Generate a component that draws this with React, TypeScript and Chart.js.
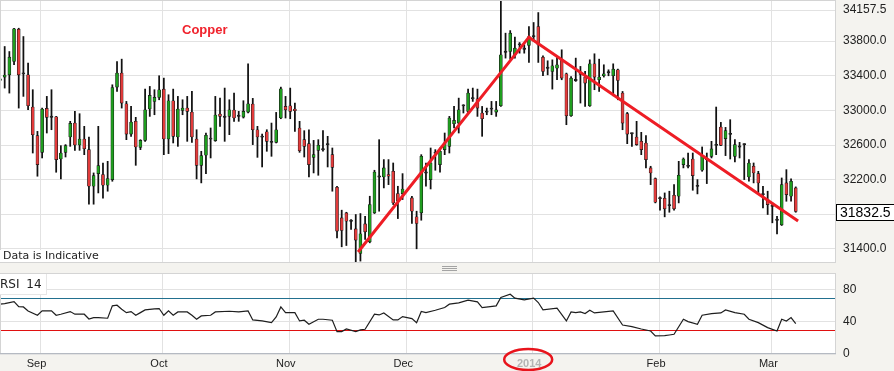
import { useEffect, useRef } from 'react';
import { Chart, registerables } from 'chart.js';
Chart.register(...registerables);

// ---- data (candle index 0 = first visible session) ----
const opens: (number | null)[] = [
  33346, 33385, 33411, 33565, 33938, 33425, 33411, 33039, 32708, 32516,
  33023, 32925, 32927, 32439, 32516, 32693, 32854, 32601, 32670, 32547,
  32124, 32270, 32259, 32136, 32201, 33269, 33431, 33077, 32727, 32874,
  32574, 32654, 33016, 33104, 33150, 33246, 32670, 33112, 32693, 33000,
  33027, 32981, 32670, 32366, 32482, 32668, 32651, 32958, 32925, 32931,
  33004, 32935, 32923, 32981, 33073, 32777, 32695, 32754, 32633, 32631,
  32912, 33046, 33054, 33016, 32797, 32662, 32616, 32458, 32539, 32549,
  32607, 32489, 32113, 31759, 31817, 31723, 31632, 31348, 31690, 31482,
  31817, 32234, 32232, 32259, 32297, 32040, 32040, null, 31990, 31771,
  31817, 32280, 32201, 32510, 32374, 32547, 32585, 32847, 32854, 33056,
  32989, 33137, 33135, 32970, 32983, 33014, 32981, 33054, 33671, 33680,
  33642, 33759, 33709, 33750, 33855, 33969, 33615, 33490, 33450, 33488,
  33584, 33423, 32939, 33348, 33421, 33385, 33054, 33538, 33354, 33400,
  33440, 33400, 33469, 33200, 32962, 32733, 32693, 32643, 32624, 32336,
  32213, 31984, 31986, 31903, 32020, 32009, 32374, 32357, 32439, 32126,
  32309, 32434, 32470, 32599, 32808, 32674, 32726, 32470, 32580, 32607,
  32232, 32355, 32270, 32030, 31971, 31896, 31734, 31679, 32163, 32009,
  32105,
];
const highs: (number | null)[] = [
  33385, 33738, 33680, 33949, 33949, 33853, 33546, 33239, 32758, 33027,
  33162, 33239, 32931, 32593, 32605, 32874, 32989, 32962, 32816, 32693,
  32278, 32816, 32393, 32412, 33296, 33565, 33592, 33104, 33046, 32920,
  32662, 33246, 33277, 33239, 33400, 33373, 33181, 33246, 33162, 33123,
  33162, 33219, 32777, 32528, 32739, 32797, 33162, 33142, 33258, 33123,
  33200, 32989, 33112, 33538, 33139, 32816, 32727, 32777, 32854, 32977,
  33269, 33162, 33258, 33085, 32874, 32766, 32777, 32654, 32662, 32766,
  32701, 32566, 32124, 31848, 31824, 31740, 31798, 31809, 31778, 32009,
  32309, 32662, 32432, 32432, 32393, 32124, 32270, null, 32009, 31836,
  32489, 32393, 32566, 32547, 32566, 32739, 32931, 33046, 33142, 33066,
  33246, 33258, 33246, 33046, 33027, 33104, 33104, 34260, 33892, 33922,
  33846, 33784, 33757, 33969, 34015, 34130, 33631, 33573, 33584, 33615,
  33700, 33431, 33392, 33604, 33508, 33450, 33584, 33654, 33592, 33527,
  33469, 33538, 33477, 33219, 32977, 32739, 32874, 32747, 32708, 32355,
  32220, 32001, 32047, 32067, 32143, 32412, 32451, 32508, 32508, 32201,
  32578, 32508, 32643, 33039, 32862, 32804, 32893, 32662, 32631, 32616,
  32432, 32393, 32297, 32124, 32067, 31932, 31778, 32220, 32316, 32209,
  32117,
];
const lows: (number | null)[] = [
  33323, 33258, 33200, 33527, 33027, 33162, 33008, 32508, 32240, 32451,
  32739, 32777, 32286, 32209, 32462, 32585, 32539, 32539, 32489, 31917,
  31917, 32047, 31986, 32067, 32182, 33219, 33027, 32662, 32701, 32366,
  32547, 32643, 32931, 32950, 33123, 32489, 32501, 32624, 32585, 32950,
  32643, 32631, 32209, 32163, 32270, 32451, 32643, 32816, 32643, 32720,
  32874, 32874, 32912, 32970, 32605, 32458, 32347, 32528, 32470, 32624,
  32904, 32912, 32904, 32758, 32516, 32462, 32232, 32278, 32251, 32528,
  32347, 32067, 31529, 31425, 31440, 31625, 31240, 31260, 31509, 31471,
  31809, 31836, 32105, 32143, 31913, 31751, 31971, null, 31694, 31402,
  31732, 32124, 32093, 32309, 32286, 32489, 32508, 32797, 32739, 32970,
  32970, 33104, 32931, 32701, 32950, 32950, 32931, 33046, 33604, 33592,
  33604, 33661, 33661, 33554, 33796, 33554, 33400, 33411, 33246, 33354,
  33354, 32835, 32931, 33335, 33085, 33046, 33046, 33239, 33219, 33385,
  33400, 33169, 33123, 32777, 32616, 32585, 32597, 32489, 32336, 32143,
  31932, 31848, 31771, 31824, 31848, 31932, 32336, 32336, 32078, 32036,
  32297, 32155, 32451, 32489, 32593, 32478, 32439, 32405, 32451, 32201,
  32182, 32163, 32047, 31874, 31798, 31702, 31575, 31671, 31951, 31951,
  31824,
];
const closes: (number | null)[] = [
  33365, 33408, 33615, 33942, 33411, 33420, 33054, 32720, 32374, 33016,
  32920, 32920, 32432, 32508, 32593, 32850, 32601, 32670, 32558, 32124,
  32247, 32362, 32136, 32213, 33265, 33431, 33085, 32727, 32866, 32578,
  32654, 33008, 33173, 33150, 33239, 32670, 33112, 32701, 33016, 33027,
  32989, 32693, 32366, 32478, 32712, 32672, 32946, 32931, 32920, 33008,
  32912, 32931, 32989, 33077, 32777, 32693, 32690, 32643, 32629, 32777,
  33250, 33008, 32989, 32996, 32535, 32585, 32374, 32489, 32597, 32545,
  32603, 32343, 31606, 31613, 31721, 31719, 31502, 31575, 31598, 31913,
  32289, 32230, 32336, 32240, 31932, 31951, 32093, null, 31836, 31694,
  32470, 32276, 32393, 32506, 32528, 32624, 32912, 32885, 33008, 33052,
  33200, 33133, 33027, 32904, 32979, 33018, 33008, 33642, 33675, 33892,
  33719, 33755, 33705, 33853, 33851, 33757, 33450, 33486, 33515, 33527,
  33373, 32939, 33373, 33344, 33417, 33315, 33538, 33385, 33385, 33423,
  33436, 33477, 33346, 32854, 32727, 32729, 32605, 32547, 32432, 32278,
  31940, 31980, 31863, 31899, 31863, 32251, 32439, 32353, 32247, 32122,
  32478, 32430, 32555, 32595, 32597, 32766, 32722, 32605, 32576, 32603,
  32393, 32278, 32163, 32026, 31913, 31892, 31730, 32143, 32028, 32182,
  31832.5,
];

// RSI(14) vertices: candle index -> value
const rsiIdx = [
  0, 1, 3, 4, 5, 6, 8, 9, 11, 12, 13, 15, 16, 18, 19, 20, 21, 23, 24, 25,
  26, 27, 28, 29, 30, 31, 33, 34, 35, 36, 37, 38, 40, 41, 42, 43, 45, 46, 49, 51,
  53, 54, 56, 58, 59, 60, 61, 63, 64, 65, 66, 68, 69, 71, 72, 73, 74, 76, 77, 78,
  80, 81, 82, 84, 85, 86, 88, 89, 90, 91, 93, 95, 96, 98, 100, 102, 103, 106, 107, 109,
  110, 112, 114, 115, 116, 119, 121, 122, 123, 124, 125, 126, 127, 131, 133, 135, 137, 139, 140, 142,
  143, 144, 146, 147, 149, 150, 152, 154, 155, 157, 159, 160, 162, 164, 166, 167, 168, 169, 170,
];
const rsiVals = [
  62.1, 62.9, 65.4, 59.1, 58.7, 53.7, 48.3, 53.7, 53.7, 48.3, 49.6, 52.9, 49.6, 49.6, 43.7, 45.4, 45.4, 44.6, 60.0, 60.8,
  55.8, 51.6, 52.9, 48.3, 51.6, 55.0, 56.2, 56.7, 48.3, 53.7, 48.3, 52.5, 52.5, 48.3, 43.3, 47.5, 48.3, 52.5, 53.3, 52.5,
  53.7, 42.5, 41.2, 39.1, 46.2, 58.7, 51.6, 51.6, 41.2, 42.1, 37.1, 43.3, 43.3, 42.1, 27.9, 27.9, 31.2, 27.9, 30.0, 30.8,
  49.6, 48.7, 51.2, 42.5, 42.5, 46.6, 44.1, 39.1, 53.0, 51.6, 54.6, 57.9, 62.1, 63.7, 67.1, 65.0, 57.9, 60.0, 70.4, 74.6,
  69.6, 67.5, 69.6, 64.2, 55.0, 57.1, 41.2, 52.5, 51.6, 52.5, 50.4, 54.6, 51.2, 53.7, 36.2, 34.1, 31.2, 28.7, 22.5, 22.9,
  23.7, 24.6, 43.3, 40.4, 37.1, 48.3, 50.4, 51.2, 55.0, 51.6, 49.6, 43.3, 39.1, 32.9, 28.7, 43.3, 41.2, 45.4, 37.9,
];

// hand-drawn trend lines (candle index, price)
const trendIdx = [76.5, 113.0, 170.5];
const trendPrice = [31365, 33846, 31723];

const monthTicks = [8.55, 34.7, 61.8, 86.9, 113.8, 140.9, 164.9];
const monthLabels = ['Sep', 'Oct', 'Nov', 'Dec', '2014', 'Feb', 'Mar'];
const priceTicks = [31400, 31800, 32200, 32600, 33000, 33400, 33800, 34157.5];
const rsiTicks = [0, 40, 80];
const overbought = 70;
const oversold = 30;

const X_MIN = 0;
const X_MAX = 178.6;
const PRICE_MIN = 31238;
const PRICE_MAX = 34275;

const FONT = "'Liberation Sans', Arial, sans-serif";
const GRID = '#e2e2e2';

export default function App() {
  const mainRef = useRef<HTMLCanvasElement>(null);
  const rsiRef = useRef<HTMLCanvasElement>(null);

  useEffect(() => {
    const idx = closes.map((_, i) => i).filter((i) => closes[i] != null);
    const wicks = idx.map((i) => ({ x: i, y: [lows[i] as number, highs[i] as number] }));
    const bodies = idx.map((i) => {
      const o = opens[i] as number;
      const c = closes[i] as number;
      return { x: i, y: [Math.min(o, c), Math.max(o, c)] };
    });
    const bodyColors = idx.map((i) => {
      const o = opens[i] as number;
      const c = closes[i] as number;
      if (Math.abs(o - c) < 6) return '#333';
      return c > o ? '#1f9e1f' : '#e23b3b';
    });
    const trend = trendIdx.map((x, i) => ({ x, y: trendPrice[i] }));
    const lastClose = closes[closes.length - 1] as number;

    const framePlugin = (bottomColor: string) => ({
      id: 'frame',
      beforeDraw(chart: any) {
        const { ctx, chartArea: a } = chart;
        ctx.save();
        ctx.fillStyle = '#ffffff';
        ctx.fillRect(a.left, a.top, a.right - a.left, a.bottom - a.top);
        ctx.restore();
      },
      afterDraw(chart: any) {
        const { ctx, chartArea: a } = chart;
        ctx.save();
        ctx.strokeStyle = '#d4d4d4';
        ctx.lineWidth = 1;
        ctx.strokeRect(a.left + 0.5, a.top + 0.5, a.right - a.left - 1, a.bottom - a.top - 1);
        ctx.strokeStyle = bottomColor;
        ctx.beginPath();
        ctx.moveTo(a.left, a.bottom - 0.5);
        ctx.lineTo(a.right, a.bottom - 0.5);
        ctx.stroke();
        ctx.restore();
      },
    });

    const priceBox = {
      id: 'priceBox',
      afterDraw(chart: any) {
        const { ctx, chartArea: a } = chart;
        const y = Math.round(chart.scales.y.getPixelForValue(lastClose));
        ctx.save();
        ctx.fillStyle = '#ffffff';
        ctx.fillRect(a.right, y - 8, 70, 16);
        ctx.strokeStyle = '#000';
        ctx.lineWidth = 1;
        ctx.strokeRect(a.right + 0.5, y - 7.5, 70, 16);
        ctx.fillStyle = '#000';
        ctx.font = `14px ${FONT}`;
        ctx.textBaseline = 'middle';
        ctx.fillText(lastClose.toFixed(1), a.right + 4, y + 1);
        ctx.restore();
      },
    };

    const main = new Chart(mainRef.current as HTMLCanvasElement, {
      type: 'bar',
      data: {
        datasets: [
          {
            type: 'line',
            data: trend,
            borderColor: '#ee1d25',
            borderWidth: 3,
            pointRadius: 0,
            order: 0,
          } as any,
          {
            type: 'bar',
            data: bodies,
            backgroundColor: bodyColors,
            borderColor: '#151515',
            borderWidth: 0.6,
            borderSkipped: false,
            barThickness: 3,
            grouped: false,
            minBarLength: 1.2,
            order: 1,
          } as any,
          {
            type: 'bar',
            data: wicks,
            backgroundColor: '#111',
            borderWidth: 0,
            barThickness: 1.1,
            grouped: false,
            order: 2,
          } as any,
        ],
      },
      options: {
        responsive: false,
        animation: false,
        devicePixelRatio: 1,
        layout: { padding: 0 },
        plugins: { legend: { display: false }, tooltip: { enabled: false } },
        scales: {
          x: {
            type: 'linear',
            min: X_MIN,
            max: X_MAX,
            offset: false,
            afterBuildTicks: (s: any) => {
              s.ticks = monthTicks.map((v) => ({ value: v }));
            },
            ticks: { display: false },
            grid: { color: GRID, drawTicks: false, offset: false },
            border: { display: false },
            afterFit: (s: any) => {
              s.height = 0;
              s.paddingLeft = 0;
              s.paddingRight = 0;
            },
          },
          y: {
            position: 'right',
            min: PRICE_MIN,
            max: PRICE_MAX,
            afterBuildTicks: (s: any) => {
              s.ticks = priceTicks.map((v) => ({ value: v }));
            },
            ticks: {
              padding: 7,
              color: '#222',
              font: { family: FONT, size: 12 },
              callback: (v: any) => (v === 31800 ? '' : Number(v).toFixed(1)),
            },
            grid: { color: GRID, drawTicks: false },
            border: { display: false },
            afterFit: (s: any) => {
              s.width = 58;
              s.paddingTop = 0;
              s.paddingBottom = 0;
            },
          },
        },
      } as any,
      plugins: [framePlugin('#d4d4d4'), priceBox],
    });

    const levels = {
      id: 'levels',
      beforeDatasetsDraw(chart: any) {
        const { ctx, chartArea: a } = chart;
        const ys = chart.scales.y;
        ctx.save();
        ctx.lineWidth = 1;
        [
          [overbought, '#22708f'],
          [oversold, '#e01010'],
        ].forEach(([v, col]) => {
          const y = Math.round(ys.getPixelForValue(v as number)) + 0.5;
          ctx.strokeStyle = col as string;
          ctx.beginPath();
          ctx.moveTo(a.left, y);
          ctx.lineTo(a.right, y);
          ctx.stroke();
        });
        ctx.restore();
      },
      afterDraw(chart: any) {
        const { ctx, chartArea: a } = chart;
        const x = chart.scales.x.getPixelForValue(monthTicks[4]) - 4.5;
        ctx.save();
        ctx.strokeStyle = '#e8141c';
        ctx.lineWidth = 2.5;
        ctx.beginPath();
        ctx.ellipse(x, a.bottom + 5.5, 24, 10.5, 0, 0, Math.PI * 2);
        ctx.stroke();
        ctx.restore();
      },
    };

    const rsi = new Chart(rsiRef.current as HTMLCanvasElement, {
      type: 'line',
      data: {
        datasets: [
          {
            data: rsiIdx.map((x, i) => ({ x, y: rsiVals[i] })),
            borderColor: '#1e1e1e',
            borderWidth: 1.2,
            pointRadius: 0,
            tension: 0,
          },
        ],
      },
      options: {
        responsive: false,
        animation: false,
        devicePixelRatio: 1,
        layout: { padding: { top: 5, left: 0, right: 0, bottom: 0 } },
        plugins: { legend: { display: false }, tooltip: { enabled: false } },
        scales: {
          x: {
            type: 'linear',
            min: X_MIN,
            max: X_MAX,
            offset: false,
            afterBuildTicks: (s: any) => {
              s.ticks = monthTicks.map((v) => ({ value: v }));
            },
            ticks: {
              autoSkip: false,
              maxRotation: 0,
              padding: 3,
              labelOffset: -3.5,
              font: (c: any) => ({ family: FONT, size: 11, weight: c.index === 4 ? 'bold' : 'normal' }),
              color: (c: any) => (c.index === 4 ? '#b4b4b4' : '#222'),
              callback: (_v: any, i: number) => monthLabels[i],
            },
            grid: { color: GRID, drawTicks: false, offset: false },
            border: { display: false },
            afterFit: (s: any) => {
              s.height = 17;
              s.paddingLeft = 0;
              s.paddingRight = 0;
            },
          },
          y: {
            position: 'right',
            min: 0,
            max: 101,
            afterBuildTicks: (s: any) => {
              s.ticks = rsiTicks.map((v) => ({ value: v }));
            },
            ticks: { padding: 7, color: '#222', font: { family: FONT, size: 12 } },
            grid: { color: GRID, drawTicks: false },
            border: { display: false },
            afterFit: (s: any) => {
              s.width = 58;
              s.paddingTop = 0;
              s.paddingBottom = 0;
            },
          },
        },
      } as any,
      plugins: [framePlugin('#b5bac2'), levels],
    });

    return () => {
      main.destroy();
      rsi.destroy();
    };
  }, []);

  return (
    <div
      style={{
        position: 'absolute',
        left: 0,
        top: 0,
        width: 894,
        height: 371,
        overflow: 'hidden',
        background: '#f4f3ef',
      }}
    >
      <canvas
        ref={mainRef}
        width={894}
        height={263}
        style={{ position: 'absolute', left: 0, top: 0, width: 894, height: 263 }}
      />
      <canvas
        ref={rsiRef}
        width={894}
        height={103}
        style={{ position: 'absolute', left: 0, top: 268, width: 894, height: 103 }}
      />
      <div
        style={{
          position: 'absolute',
          left: 182,
          top: 22,
          font: `bold 13px ${FONT}`,
          lineHeight: '16px',
          color: '#f0222c',
        }}
      >
        Copper
      </div>
      <div
        style={{
          position: 'absolute',
          left: 0,
          top: 250,
          width: 102,
          height: 12,
          paddingLeft: 3,
          background: '#fff',
          font: "11px 'DejaVu Sans', Verdana, sans-serif",
          lineHeight: '11px',
          color: '#222',
          whiteSpace: 'nowrap',
        }}
      >
        Data is Indicative
      </div>
      <div
        style={{
          position: 'absolute',
          left: 0,
          top: 274,
          width: 46,
          height: 20,
          background: '#fff',
          borderRight: '1px solid #e6e6e6',
          borderBottom: '1px solid #e6e6e6',
          font: "12px 'DejaVu Sans', Verdana, sans-serif",
          lineHeight: '20px',
          color: '#222',
          wordSpacing: 3,
          whiteSpace: 'nowrap',
          overflow: 'hidden',
        }}
      >
        RSI 14
      </div>
      {[266, 268, 270].map((y) => (
        <div
          key={y}
          style={{ position: 'absolute', left: 442, top: y, width: 15, height: 1, background: '#a3a3a3' }}
        />
      ))}
    </div>
  );
}
